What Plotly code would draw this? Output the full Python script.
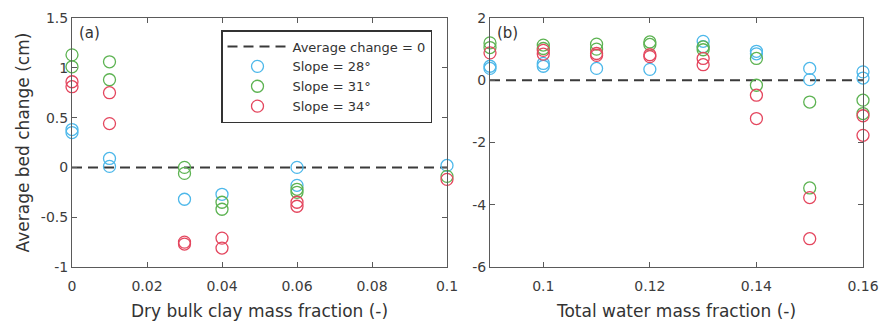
import plotly.graph_objects as go

# ---------------- data ----------------
slopes = ["Slope = 28°", "Slope = 31°", "Slope = 34°"]
colors = ["#4DB8EA", "#5DB352", "#E4465E"]

# Panel (a): dry bulk clay mass fraction
a_x28 = [0, 0, 0.01, 0.01, 0.03, 0.04, 0.06, 0.06, 0.1]
a_y28 = [0.38, 0.35, 0.09, 0.01, -0.32, -0.27, 0.0, -0.18, 0.02]
a_x31 = [0, 0, 0.01, 0.01, 0.03, 0.03, 0.04, 0.04, 0.06, 0.06, 0.1]
a_y31 = [1.13, 1.01, 1.06, 0.88, 0.0, -0.06, -0.35, -0.42, -0.22, -0.25, -0.09]
a_x34 = [0, 0, 0.01, 0.01, 0.03, 0.03, 0.04, 0.04, 0.06, 0.06, 0.1]
a_y34 = [0.86, 0.81, 0.75, 0.44, -0.75, -0.77, -0.71, -0.81, -0.35, -0.39, -0.12]

# Panel (b): total water mass fraction
b_x28 = [0.09, 0.09, 0.10, 0.10, 0.11, 0.12, 0.13, 0.13, 0.14, 0.14, 0.15, 0.15, 0.16, 0.16]
b_y28 = [0.45, 0.38, 0.54, 0.45, 0.38, 0.35, 1.25, 1.08, 0.93, 0.85, 0.38, 0.02, 0.27, 0.07]
b_x31 = [0.09, 0.09, 0.10, 0.10, 0.11, 0.11, 0.12, 0.12, 0.13, 0.13, 0.14, 0.14, 0.15, 0.15, 0.16, 0.16]
b_y31 = [1.2, 1.05, 1.13, 1.02, 1.16, 1.0, 1.23, 1.15, 1.07, 0.98, 0.7, -0.16, -0.7, -3.46, -0.64, -1.07]
b_x34 = [0.09, 0.10, 0.10, 0.11, 0.11, 0.12, 0.12, 0.13, 0.13, 0.14, 0.14, 0.15, 0.15, 0.16, 0.16]
b_y34 = [0.88, 0.96, 0.84, 0.86, 0.8, 0.82, 0.76, 0.7, 0.5, -0.48, -1.23, -3.77, -5.09, -1.14, -1.77]

a_xticks = [0, 0.02, 0.04, 0.06, 0.08, 0.1]
a_xlabels = ["0", "0.02", "0.04", "0.06", "0.08", "0.1"]
a_yticks = [-1, -0.5, 0, 0.5, 1, 1.5]
a_ylabels = ["-1", "-0.5", "0", "0.5", "1", "1.5"]
b_xticks = [0.1, 0.12, 0.14, 0.16]
b_xlabels = ["0.1", "0.12", "0.14", "0.16"]
b_yticks = [-6, -4, -2, 0, 2]
b_ylabels = ["-6", "-4", "-2", "0", "2"]

zero_label = "Average change = 0"

# ---------------- figure ----------------
FONT = "DejaVu Sans"
W, H = 882, 321
# target screen positions of plot areas
AX0, AX1, BX0, BX1, TOP, BOT = 72, 447, 490, 863, 18, 267
L = AX0
R = W - BX1
T = TOP
B = H - BOT
PW = W - L - R
PH = H - T - B


def px(x):
    return (x - L) / PW


def py(y):
    return (BOT - y) / PH


fig = go.Figure()

# zero lines
fig.add_trace(go.Scatter(x=[0, 0.1], y=[0, 0], mode="lines", name=zero_label,
                         line=dict(color="#3a3a3a", width=2, dash="10px,6px"),
                         xaxis="x", yaxis="y", showlegend=True))
fig.add_trace(go.Scatter(x=[0.09, 0.16], y=[0, 0], mode="lines", name=zero_label,
                         line=dict(color="#3a3a3a", width=2, dash="10px,6px"),
                         xaxis="x2", yaxis="y2", showlegend=False))

panel_a = [(a_x28, a_y28), (a_x31, a_y31), (a_x34, a_y34)]
panel_b = [(b_x28, b_y28), (b_x31, b_y31), (b_x34, b_y34)]
for i, ((ax, ay), (bx, by)) in enumerate(zip(panel_a, panel_b)):
    mk = dict(symbol="circle-open", size=12, color=colors[i], line=dict(width=1.3, color=colors[i]))
    fig.add_trace(go.Scatter(x=ax, y=ay, mode="markers", name=slopes[i], marker=mk,
                             xaxis="x", yaxis="y", cliponaxis=False))
    fig.add_trace(go.Scatter(x=bx, y=by, mode="markers", name=slopes[i], marker=mk,
                             xaxis="x2", yaxis="y2", cliponaxis=False, showlegend=False))

axis_common = dict(showline=True, linecolor="#5a5a5a", linewidth=1, mirror="ticks",
                   ticks="inside", ticklen=5, tickcolor="#5a5a5a", showgrid=False,
                   zeroline=False, automargin=False,
                   tickfont=dict(family=FONT, size=14, color="#3c3c3c"))
title_font = dict(family=FONT, size=17, color="#333333")

fig.update_layout(
    width=W, height=H,
    margin=dict(l=L, r=R, t=T, b=B),
    plot_bgcolor="white", paper_bgcolor="white",
    font=dict(family=FONT, color="#333333"),
    xaxis=dict(domain=[0, px(AX1)], range=[0, 0.1], tickmode="array",
               tickvals=a_xticks, ticktext=a_xlabels, ticklabelstandoff=6,
               title=dict(text="Dry bulk clay mass fraction (-)", font=title_font, standoff=12),
               anchor="y", **axis_common),
    yaxis=dict(domain=[0, 1], range=[-1, 1.5], tickmode="array",
               tickvals=a_yticks, ticktext=a_ylabels,
               title=dict(text="Average bed change (cm)", font=title_font, standoff=6),
               anchor="x", **axis_common),
    xaxis2=dict(domain=[px(BX0), 1], range=[0.09, 0.16], tickmode="array",
                tickvals=b_xticks, ticktext=b_xlabels, ticklabelstandoff=6,
                title=dict(text="Total water mass fraction (-)", font=title_font, standoff=12),
                anchor="y2", **axis_common),
    yaxis2=dict(domain=[0, 1], range=[-6, 2], tickmode="array",
                tickvals=b_yticks, ticktext=b_ylabels, anchor="x2", **axis_common),
    legend=dict(x=px(221), y=py(30), xanchor="left", yanchor="top",
                bgcolor="white", bordercolor="#333333", borderwidth=1.5,
                font=dict(family=FONT, size=13, color="#333333"),
                tracegroupgap=0, itemwidth=60),
    showlegend=True,
    hovermode=False,
)

fig.add_annotation(text="(a)", xref="paper", yref="paper", x=px(77), y=py(22),
                   xanchor="left", yanchor="top", showarrow=False,
                   font=dict(family=FONT, size=15, color="#333333"))
fig.add_annotation(text="(b)", xref="paper", yref="paper", x=px(495), y=py(22),
                   xanchor="left", yanchor="top", showarrow=False,
                   font=dict(family=FONT, size=15, color="#333333"))

# remove the default page margin so the 882x321 figure fills the window exactly
fig.write_html("out.html",
               config={"displayModeBar": False, "staticPlot": True},
               post_script="document.body.style.margin='0';"
                           "document.documentElement.style.overflow='hidden';")
